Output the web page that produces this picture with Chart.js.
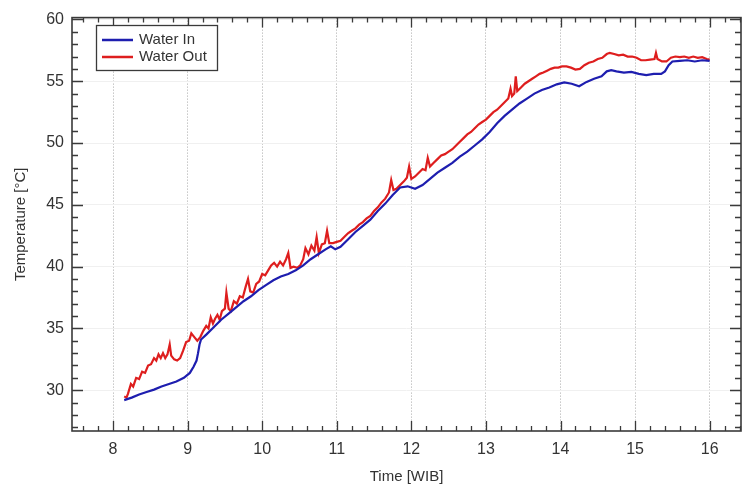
<!DOCTYPE html>
<html>
<head>
<meta charset="utf-8">
<script src="https://cdn.jsdelivr.net/npm/chart.js@4/dist/chart.umd.min.js"></script>
<style>
  html, body { margin: 0; padding: 0; background: #fff; }
  #wrap { width: 744px; height: 489px; }
</style>
</head>
<body>
<div id="wrap"><canvas id="tempChart"></canvas></div>
<script>
// time of day [h]
const timeIn = [8.15, 8.25, 8.35, 8.45, 8.55, 8.65, 8.75, 8.85, 8.95, 9.03, 9.08, 9.12, 9.14, 9.16, 9.18,
  9.25, 9.35, 9.45, 9.55, 9.65, 9.75, 9.85, 9.95, 10.05, 10.15, 10.25, 10.35, 10.45, 10.55, 10.65,
  10.75, 10.85, 10.92, 10.98, 11.05, 11.15, 11.25, 11.35, 11.45, 11.55, 11.65, 11.75, 11.85, 11.95,
  12.05, 12.15, 12.25, 12.35, 12.45, 12.55, 12.65, 12.75, 12.85, 12.95, 13.05, 13.15, 13.25, 13.35,
  13.45, 13.55, 13.65, 13.75, 13.85, 13.95, 14.05, 14.15, 14.25, 14.35, 14.45, 14.55, 14.62, 14.68,
  14.75, 14.85, 14.95, 15.05, 15.15, 15.25, 15.35, 15.40, 15.45, 15.50, 15.60, 15.70, 15.80, 15.90, 16.0];
const waterIn = [29.2, 29.4, 29.65, 29.85, 30.05, 30.3, 30.5, 30.7, 31.0, 31.4, 31.9, 32.4, 33.0, 33.7, 34.1,
  34.5, 35.1, 35.7, 36.2, 36.7, 37.2, 37.6, 38.1, 38.5, 38.9, 39.2, 39.4, 39.7, 40.1, 40.6,
  41.0, 41.4, 41.65, 41.4, 41.6, 42.2, 42.8, 43.3, 43.8, 44.5, 45.1, 45.8, 46.4, 46.5,
  46.3, 46.6, 47.1, 47.6, 48.0, 48.4, 48.9, 49.3, 49.8, 50.3, 50.9, 51.6, 52.2, 52.7,
  53.2, 53.6, 54.0, 54.3, 54.5, 54.75, 54.9, 54.8, 54.6, 54.95, 55.2, 55.4, 55.8, 55.9,
  55.8, 55.7, 55.75, 55.6, 55.5, 55.6, 55.6, 55.8, 56.3, 56.6, 56.65, 56.7, 56.6, 56.7, 56.65];

const timeOut = [8.15, 8.18, 8.2, 8.24, 8.27, 8.31, 8.35, 8.39, 8.43, 8.47, 8.51, 8.55, 8.58, 8.61, 8.64,
  8.67, 8.70, 8.73, 8.76, 8.78, 8.82, 8.86, 8.90, 8.94, 8.98, 9.02, 9.05, 9.09, 9.13, 9.17,
  9.21, 9.25, 9.28, 9.31, 9.34, 9.37, 9.40, 9.43, 9.46, 9.50, 9.52, 9.55, 9.58, 9.62, 9.66,
  9.70, 9.74, 9.78, 9.81, 9.84, 9.88, 9.92, 9.96, 10.00, 10.04, 10.08, 10.12, 10.16, 10.20, 10.24,
  10.28, 10.32, 10.35, 10.38, 10.42, 10.47, 10.51, 10.55, 10.58, 10.62, 10.66, 10.70, 10.73, 10.76,
  10.80, 10.84, 10.87, 10.90, 10.95, 11.00, 11.05, 11.10, 11.15, 11.20, 11.25, 11.30, 11.35, 11.40,
  11.45, 11.50, 11.55, 11.60, 11.65, 11.70, 11.73, 11.76, 11.80, 11.85, 11.90, 11.94, 11.97, 12.00,
  12.05, 12.10, 12.15, 12.19, 12.22, 12.25, 12.30, 12.35, 12.40, 12.45, 12.50, 12.55, 12.60, 12.65,
  12.70, 12.75, 12.80, 12.85, 12.90, 12.95, 13.00, 13.05, 13.10, 13.15, 13.20, 13.25, 13.30, 13.33,
  13.35, 13.38, 13.40, 13.42, 13.47, 13.52, 13.57, 13.62, 13.67, 13.72, 13.77, 13.82, 13.87, 13.92,
  13.97, 14.02, 14.08, 14.14, 14.20, 14.26, 14.32, 14.38, 14.44, 14.50, 14.56, 14.62, 14.66, 14.72,
  14.78, 14.84, 14.90, 14.96, 15.02, 15.08, 15.14, 15.20, 15.26, 15.28, 15.30, 15.36, 15.42, 15.48,
  15.54, 15.60, 15.66, 15.72, 15.78, 15.84, 15.90, 15.96, 16.00];
const waterOut = [29.5, 29.4, 29.7, 30.5, 30.3, 31.0, 30.9, 31.5, 31.4, 32.0, 32.1, 32.6, 32.4, 32.9, 32.6,
  33.0, 32.6, 32.9, 33.7, 32.8, 32.5, 32.4, 32.6, 33.2, 33.9, 34.0, 34.6, 34.3, 34.0, 34.3,
  34.8, 35.2, 35.0, 35.9, 35.4, 35.8, 36.1, 35.7, 36.4, 36.6, 37.9, 36.6, 36.4, 37.2, 37.0,
  37.6, 37.5, 38.4, 39.0, 38.0, 37.9, 38.6, 38.8, 39.4, 39.3, 39.7, 40.1, 40.3, 40.0, 40.4,
  40.1, 40.6, 41.1, 39.9, 40.0, 39.9, 40.1, 40.6, 41.5, 41.0, 41.7, 41.3, 42.4, 41.1,
  41.8, 41.9, 42.9, 41.9, 41.9, 42.0, 42.1, 42.4, 42.7, 42.9, 43.1, 43.4, 43.6, 43.9,
  44.1, 44.5, 44.8, 45.2, 45.5, 46.0, 47.0, 46.2, 46.3, 46.6, 46.9, 47.2, 48.1, 47.1,
  47.3, 47.6, 47.9, 47.8, 48.8, 48.1, 48.4, 48.7, 49.0, 49.1, 49.3, 49.5, 49.8, 50.1,
  50.4, 50.7, 50.9, 51.2, 51.5, 51.7, 51.9, 52.2, 52.5, 52.7, 53.0, 53.3, 53.6, 54.4,
  53.8, 54.0, 55.4, 54.2, 54.5, 54.8, 55.0, 55.2, 55.4, 55.6, 55.7, 55.85, 56.0, 56.1,
  56.1, 56.2, 56.2, 56.1, 55.95, 56.0, 56.3, 56.5, 56.6, 56.8, 56.9, 57.2, 57.3, 57.2,
  57.1, 57.15, 57.0, 57.0, 56.9, 56.7, 56.7, 56.75, 56.8, 57.3, 56.8, 56.6, 56.6, 56.9,
  57.0, 56.95, 57.0, 56.9, 57.0, 56.9, 56.95, 56.8, 56.75];

const xLabels = ['8', '9', '10', '11', '12', '13', '14', '15', '16'];
const yLabels = ['30', '35', '40', '45', '50', '55', '60'];

const pairs = (xs, ys) => xs.map((x, i) => ({ x: x, y: ys[i] }));

const axisColor = '#3a3a3a';
const textColor = '#333';
const fontFamily = '"Liberation Sans", Arial, sans-serif';

// inward ticks, frame and boxed legend, like the original plotting software
const framePlugin = {
  id: 'frame',
  afterDatasetsDraw(chart) {
    const { ctx, chartArea: a, scales } = chart;
    const xs = scales.x, ys = scales.y;
    ctx.save();
    ctx.strokeStyle = axisColor;
    ctx.lineWidth = 1.3;
    ctx.beginPath();
    for (let i = 38; i <= 82; i++) {
      const px = Math.round(xs.getPixelForValue(i / 5)) + 0.5;
      const len = i % 5 === 0 ? 10 : 5;
      ctx.moveTo(px, a.bottom); ctx.lineTo(px, a.bottom - len);
      ctx.moveTo(px, a.top); ctx.lineTo(px, a.top + len);
    }
    for (let v = 27; v <= 60; v++) {
      const py = Math.round(ys.getPixelForValue(v)) + 0.5;
      const len = v % 5 === 0 ? 11 : 6;
      ctx.moveTo(a.left, py); ctx.lineTo(a.left + len, py);
      ctx.moveTo(a.right, py); ctx.lineTo(a.right - len, py);
    }
    ctx.stroke();
    ctx.lineWidth = 1.6;
    ctx.strokeRect(a.left, a.top, a.right - a.left, a.bottom - a.top);

    // legend box
    const bx = 96, by = 25, bw = 121, bh = 45;
    ctx.fillStyle = '#fff';
    ctx.fillRect(bx, by, bw, bh);
    ctx.lineWidth = 1.3;
    ctx.strokeRect(bx + 0.5, by + 0.5, bw, bh);
    ctx.font = '15px ' + fontFamily;
    ctx.textBaseline = 'middle';
    chart.data.datasets.forEach((ds, i) => {
      const y = by + 15 + i * 17;
      ctx.strokeStyle = ds.borderColor;
      ctx.lineWidth = 2.5;
      ctx.beginPath();
      ctx.moveTo(bx + 6, y); ctx.lineTo(bx + 37, y);
      ctx.stroke();
      ctx.fillStyle = textColor;
      ctx.fillText(ds.label, bx + 43, y);
    });
    ctx.restore();
  }
};

new Chart(document.getElementById('tempChart'), {
  type: 'line',
  data: {
    datasets: [{
      label: 'Water In',
      data: pairs(timeIn, waterIn),
      borderColor: 'rgb(30, 30, 175)',
      borderWidth: 2.2,
      pointRadius: 0,
      tension: 0
    }, {
      label: 'Water Out',
      data: pairs(timeOut, waterOut),
      borderColor: 'rgb(222, 30, 30)',
      borderWidth: 2.2,
      pointRadius: 0,
      tension: 0
    }]
  },
  options: {
    responsive: true,
    maintainAspectRatio: false,
    animation: false,
    layout: { padding: { top: 14, right: 3, left: 0, bottom: 0 } },
    plugins: {
      legend: { display: false },
      tooltip: { enabled: false }
    },
    scales: {
      x: {
        type: 'linear',
        min: 7.45,
        max: 16.42,
        afterFit: s => { s.height = 58; },
        border: { display: false, dash: [1, 2] },
        grid: {
          color: '#a8a8a8',
          lineWidth: 1,
          drawTicks: false
        },
        ticks: {
          stepSize: 1,
          includeBounds: false,
          padding: 9,
          color: textColor,
          font: { size: 16, family: fontFamily },
          callback: v => xLabels.includes(String(v)) ? String(v) : ''
        },
        title: {
          display: true,
          text: 'Time [WIB]',
          color: textColor,
          padding: { top: 4, bottom: 3 },
          font: { size: 15, family: fontFamily }
        }
      },
      y: {
        min: 26.7,
        max: 60.15,
        afterFit: s => { s.width = 72; },
        border: { display: false },
        grid: {
          color: '#f0f0f0',
          drawTicks: false
        },
        ticks: {
          stepSize: 5,
          includeBounds: false,
          padding: 8,
          color: textColor,
          font: { size: 16, family: fontFamily },
          callback: v => yLabels.includes(String(v)) ? String(v) : ''
        },
        title: {
          display: true,
          text: 'Temperature [°C]',
          color: textColor,
          padding: { top: 12, bottom: 4 },
          font: { size: 15, family: fontFamily }
        }
      }
    }
  },
  plugins: [framePlugin]
});
</script>
</body>
</html>
